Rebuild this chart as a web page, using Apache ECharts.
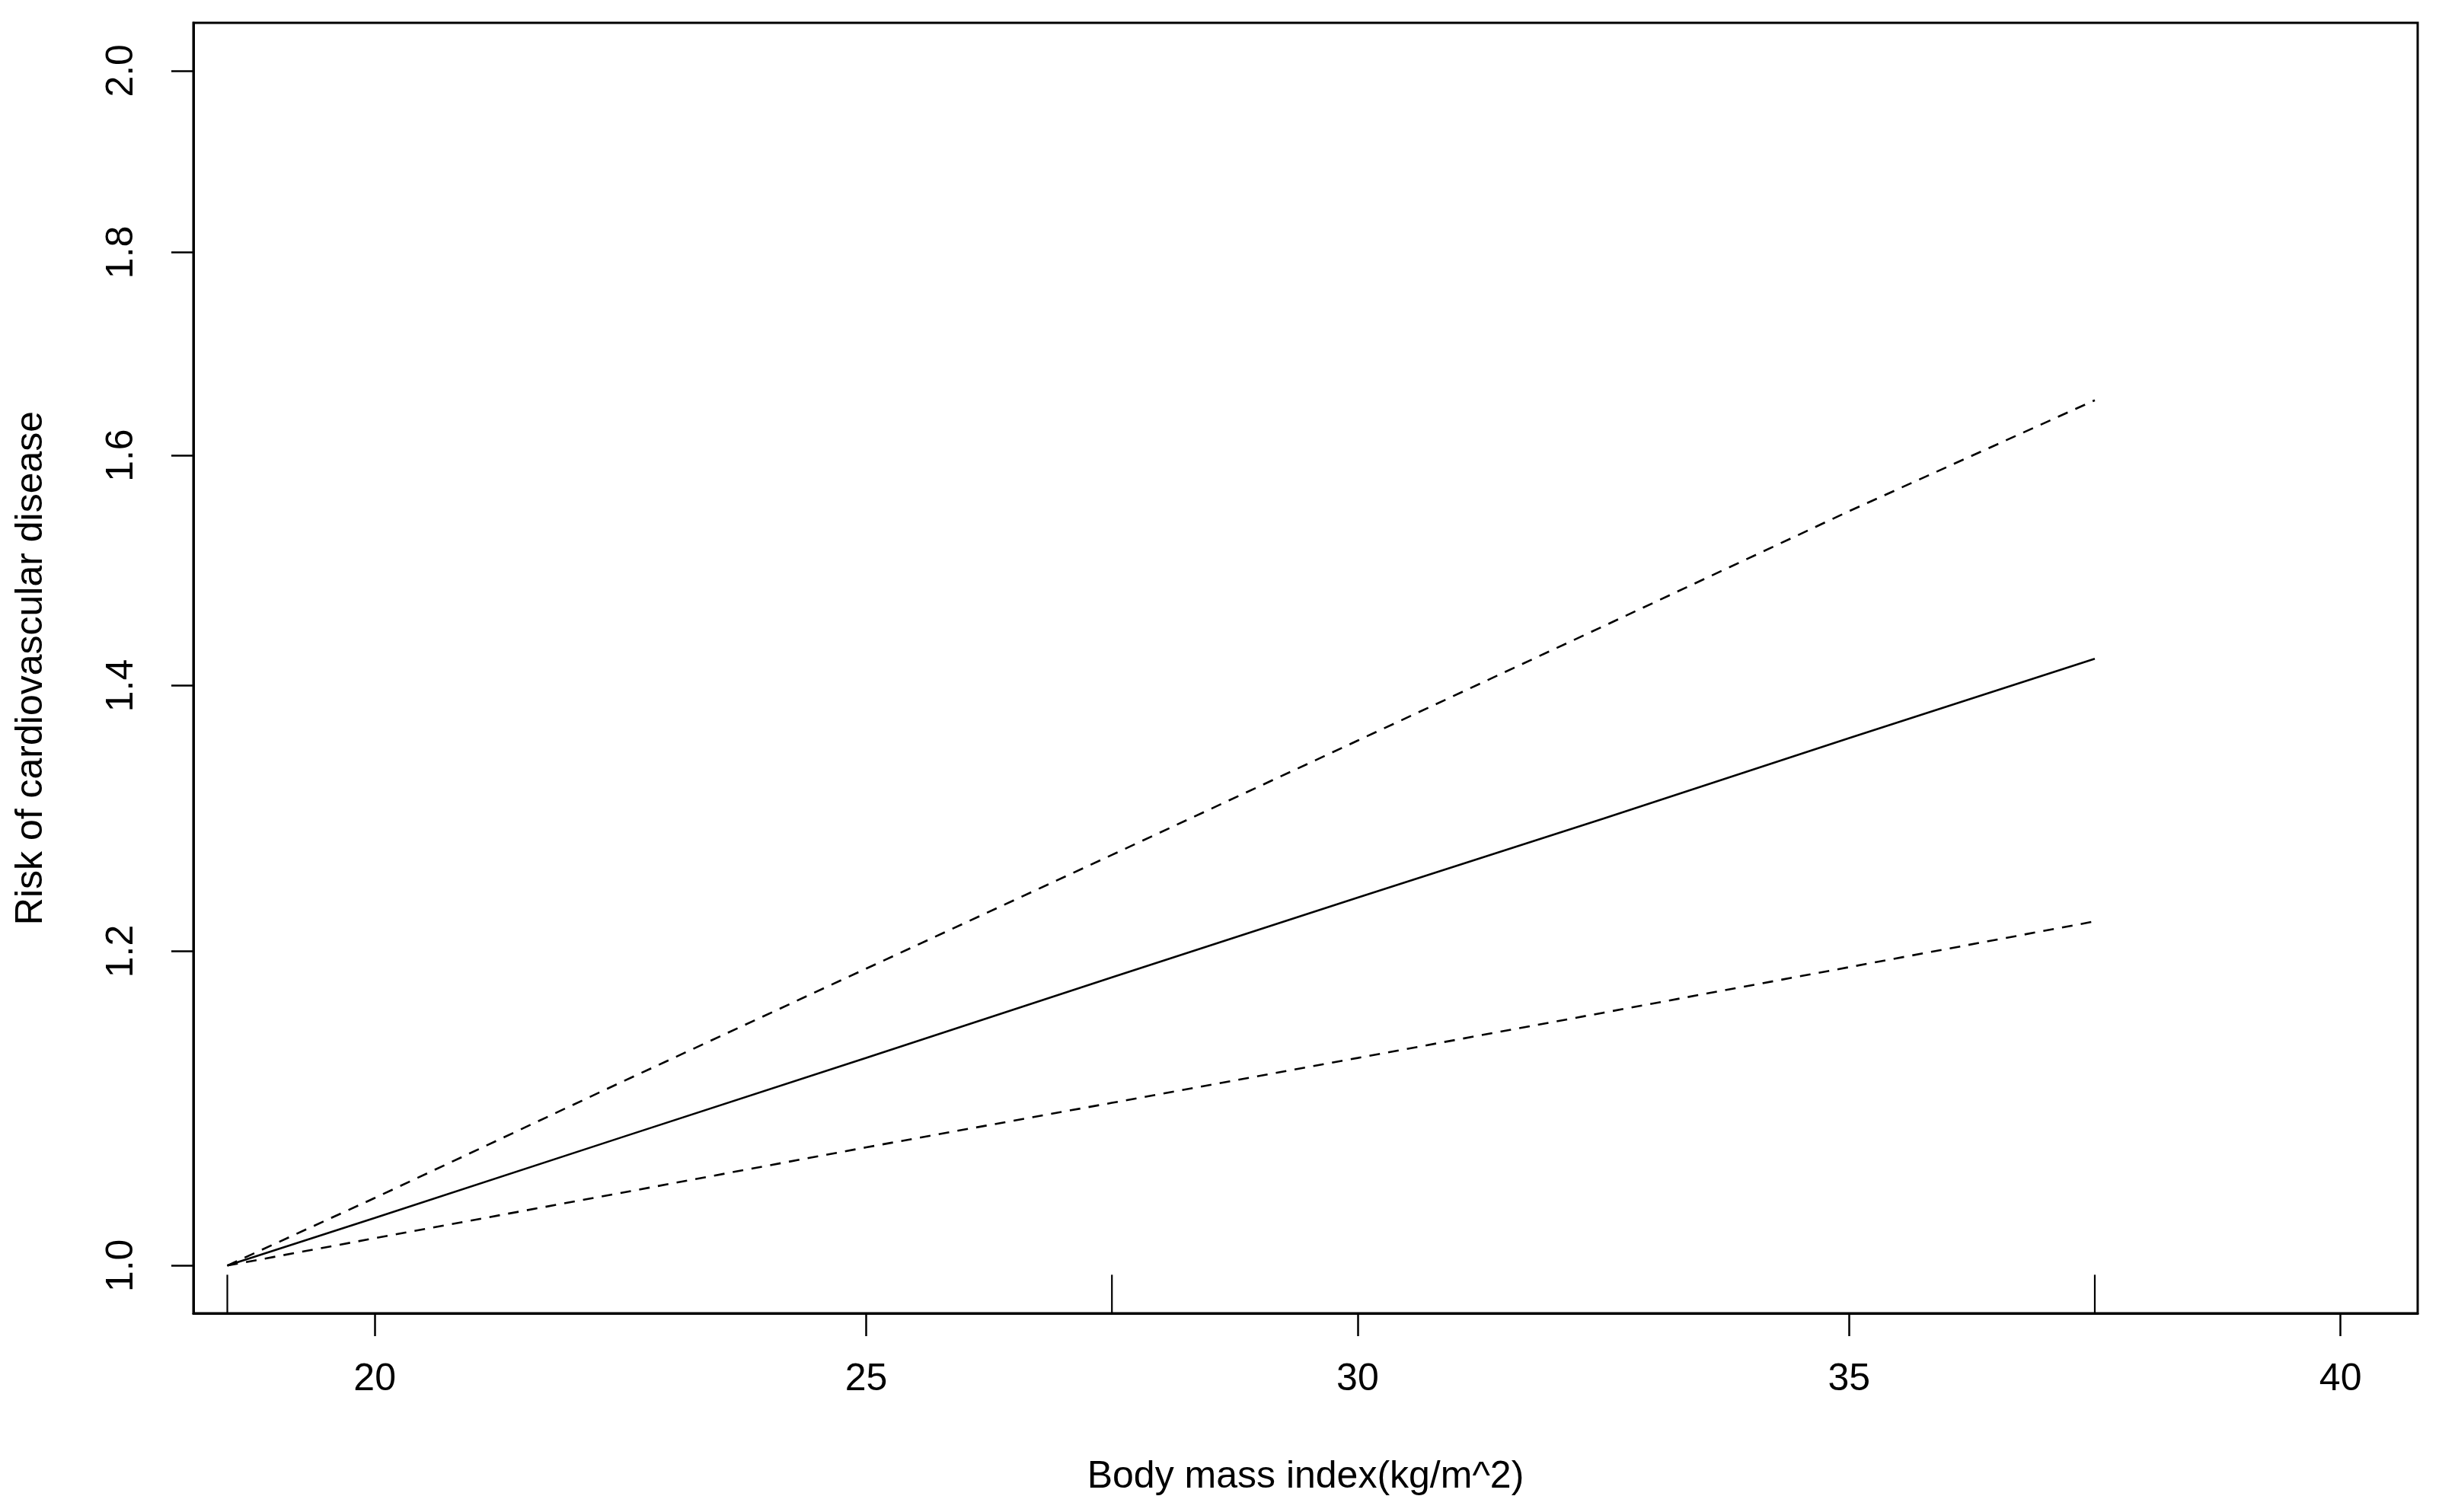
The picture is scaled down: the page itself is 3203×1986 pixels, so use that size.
<!DOCTYPE html>
<html>
<head>
<meta charset="utf-8">
<script src="https://cdn.jsdelivr.net/npm/echarts@6/dist/echarts.min.js"></script>
<style>
  html, body { margin: 0; padding: 0; background: #fff; }
  #main { width: 3203px; height: 1986px; }
</style>
</head>
<body>
<div id="main"></div>
<script>
var bmi = [18.5, 20, 22.5, 25, 27.5, 30, 32.5, 35, 37.5];
// estimated risk (fit) and its dashed bands
var riskFit = [1.000, 1.028, 1.077, 1.128, 1.182, 1.238, 1.296, 1.358, 1.422];
var riskUpper = [1.000, 1.040, 1.112, 1.188, 1.269, 1.356, 1.449, 1.549, 1.652];
var riskLower = [1.000, 1.016, 1.043, 1.071, 1.099, 1.128, 1.158, 1.189, 1.221];
// rug marks along the x axis
var rugX = [18.5, 27.5, 37.5];
var rugTop = 0.9947;

var xTicks = [20, 25, 30, 35, 40];
var yTicks = [1.0, 1.2, 1.4, 1.6, 1.8, 2.0];

var xMin = 18.155, xMax = 40.785;
var yMin = 0.9727, yMax = 2.0563;

function pairs(xs, ys) {
  var out = [];
  for (var i = 0; i < xs.length; i++) out.push([xs[i], ys[i]]);
  return out;
}

var font = 'Liberation Sans, Arial, sans-serif';
var chart = echarts.init(document.getElementById('main'));

var option = {
  animation: false,
  backgroundColor: '#fff',
  grid: {
    left: 254, top: 30, right: 28, bottom: 261,
    show: true, borderColor: '#000', borderWidth: 3, backgroundColor: 'transparent'
  },
  xAxis: {
    type: 'value',
    min: xMin, max: xMax,
    name: 'Body mass index(kg/m^2)',
    nameLocation: 'middle',
    nameGap: 190,
    nameTextStyle: { fontFamily: font, fontSize: 50, color: '#000' },
    axisLine: { show: true, lineStyle: { color: '#000', width: 3 } },
    axisTick: { show: true, length: 30, customValues: xTicks, lineStyle: { color: '#000', width: 2.5 } },
    axisLabel: { customValues: xTicks, margin: 62, fontFamily: font, fontSize: 50, color: '#000' },
    splitLine: { show: false }
  },
  yAxis: {
    type: 'log',
    min: yMin, max: yMax,
    name: 'Risk of cardiovascular disease',
    nameLocation: 'middle',
    nameGap: 188,
    nameTextStyle: { fontFamily: font, fontSize: 50, color: '#000' },
    axisLine: { show: true, lineStyle: { color: '#000', width: 3 } },
    axisTick: { show: true, length: 29, customValues: yTicks, lineStyle: { color: '#000', width: 2.5 } },
    axisLabel: {
      customValues: yTicks, rotate: 90, margin: 69,
      fontFamily: font, fontSize: 50, color: '#000',
      formatter: function (v) { return Number(v).toFixed(1); }
    },
    splitLine: { show: false }
  },
  series: [
    {
      name: 'fit', type: 'line', showSymbol: false, smooth: false,
      lineStyle: { color: '#000', width: 2.6 },
      data: pairs(bmi, riskFit)
    },
    {
      name: 'upper', type: 'line', showSymbol: false,
      lineStyle: { color: '#000', width: 2.6, type: [14, 11] },
      data: pairs(bmi, riskUpper)
    },
    {
      name: 'lower', type: 'line', showSymbol: false,
      lineStyle: { color: '#000', width: 2.6, type: [14, 11] },
      data: pairs(bmi, riskLower)
    },
    {
      name: 'rug', type: 'custom',
      data: rugX.map(function (x) { return [x, yMin, rugTop]; }),
      renderItem: function (params, api) {
        var p0 = api.coord([api.value(0), api.value(1)]);
        var p1 = api.coord([api.value(0), api.value(2)]);
        return {
          type: 'line',
          shape: { x1: p0[0], y1: p0[1], x2: p1[0], y2: p1[1] },
          style: { stroke: '#000', lineWidth: 2.2 }
        };
      }
    }
  ]
};
chart.setOption(option);
</script>
</body>
</html>
